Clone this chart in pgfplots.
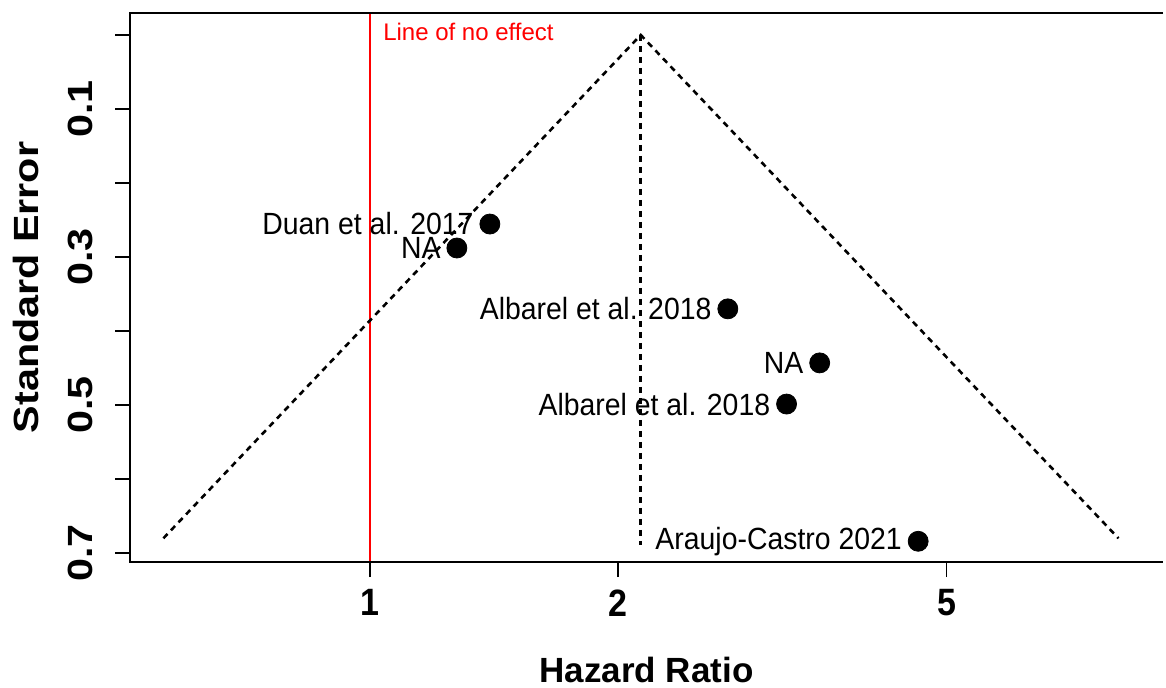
\documentclass[border=0pt]{standalone}
\usepackage{fontspec}
\setmainfont{Liberation Sans}
\usepackage{pgfplots}
\pgfplotsset{compat=1.18}
\begin{document}
\begin{tikzpicture}
\useasboundingbox (-65pt,-63pt) rectangle (518pt,281pt);
\begin{axis}[
  at={(0,0)}, anchor=south west,
  scale only axis, width=516.5pt, height=274.5pt,
  xmode=log, xmin=0.512, xmax=9.15,
  ymin=-0.0297, ymax=0.712, y dir=reverse,
  xtick={1,2,5}, xticklabels={1,2,5},
  ytick={0,0.1,0.2,0.3,0.4,0.5,0.6,0.7},
  yticklabels={,0.1,,0.3,,0.5,,0.7},
  minor tick num=0, xminorticks=false, yminorticks=false,
  tick align=outside, xtick pos=bottom, ytick pos=left,
  major tick length=7.5pt,
  axis line style={draw=none},
  tick style={black, line width=0.7pt},
  /pgf/number format/assume math mode=true,
  xticklabel style={font=\fontsize{17}{17}\selectfont\bfseries, inner sep=0pt, anchor=north, yshift=-6pt, yscale=1.12},
  yticklabel style={font=\fontsize{17.5}{17.5}\selectfont\bfseries, inner sep=0pt, rotate=90, anchor=south, yshift=11pt, xscale=1.18},
  xlabel={Hazard Ratio}, ylabel={Standard Error},
  xlabel style={font=\fontsize{17.5}{17.5}\selectfont\bfseries, at={(axis description cs:0.5,0)}, anchor=north, inner sep=0pt, yshift=-47.5pt},
  ylabel style={font=\fontsize{17.5}{17.5}\selectfont\bfseries, at={(axis description cs:0,0.5)}, anchor=center, inner sep=0pt, yshift=52pt, xscale=1.18},
  clip=false,
]
\addplot[red, line width=1pt] coordinates {(1,-0.0297) (1,0.712)};
\addplot[black, line width=1.3pt, dash pattern=on 3pt off 2.5pt] coordinates {(0.562,0.68) (2.13,0) (8.08,0.68)};
\addplot[black, line width=1.3pt, dash pattern=on 3pt off 2.5pt] coordinates {(2.13,0) (2.13,0.689)};
\addplot[only marks, mark=*, mark size=5pt, black,
  point meta=explicit symbolic,
  nodes near coords={\pgfplotspointmeta},
  nodes near coords style={font=\fontsize{14.2}{14.2}\selectfont, anchor=east, inner sep=0pt, xshift=-8pt, text=black, yscale=1.08}]
  coordinates {
  (1.398,0.2554) [Duan et al. 2017]
  (1.275,0.2878) [NA]
  (2.716,0.370) [Albarel et al. 2018]
  (3.51,0.443) [NA]
  (3.20,0.4986) [Albarel et al. 2018]
  (4.62,0.684) [Araujo-Castro 2021]
  };
\node[red, anchor=base west, inner sep=0pt, font=\fontsize{12}{12}\selectfont] at (axis cs:1.037,0.008) {Line of no effect};
\draw[black, line width=0.75pt] (axis description cs:1,1) -- (axis description cs:0,1) -- (axis description cs:0,0) -- (axis description cs:1,0);
\end{axis}
\end{tikzpicture}
\end{document}
